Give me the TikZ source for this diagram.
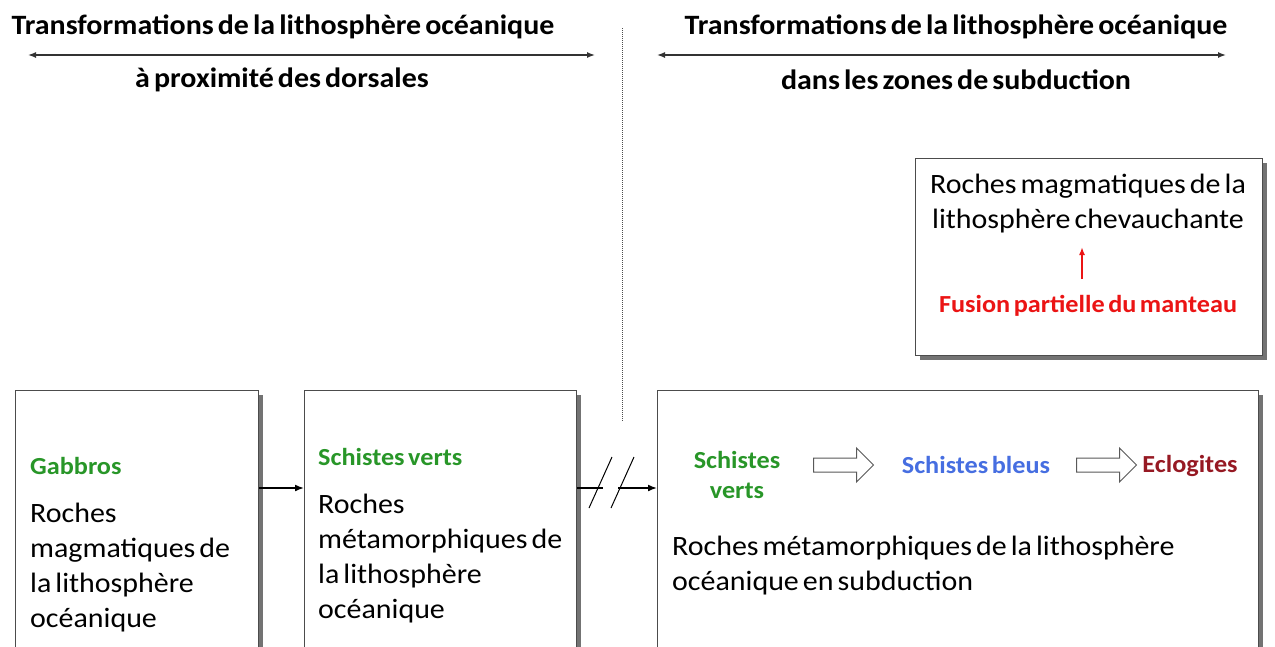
\documentclass[tikz,border=0pt]{standalone}
\usepackage{fontspec}
\setmainfont[WordSpace=0.6, FakeStretch=1.07]{Carlito}
\usetikzlibrary{arrows.meta,positioning,shadows,shapes.arrows,calc}

\definecolor{vert}{RGB}{40,150,40}
\definecolor{bleu}{RGB}{70,110,225}
\definecolor{bordeaux}{RGB}{150,25,35}
\definecolor{rouge}{RGB}{235,20,20}

\tikzset{
  cadre/.style={draw=black!70, line width=1.2pt, fill=white, anchor=north west, inner sep=0pt,
    drop shadow={shadow xshift=4pt, shadow yshift=-4pt, fill=black!55, opacity=1}},
  titre/.style={font=\fontsize{28}{30}\selectfont\bfseries, inner sep=0pt},
  texte/.style={font=\fontsize{28}{35}\selectfont, align=left, anchor=north west, inner sep=0pt},
  roche/.style={font=\fontsize{24.5}{30}\selectfont\bfseries, inner sep=0pt},
  fleche/.style={-{Latex[length=9pt,width=7pt]}, line width=1.6pt},
  creux/.style={single arrow, draw=black!65, line width=1pt, fill=white, minimum height=60pt,
    minimum width=34pt, single arrow head extend=5pt, inner sep=3pt, shape border rotate=0}
}

\begin{document}
\begin{tikzpicture}[x=1pt, y=-1pt]
  \useasboundingbox (0,0) rectangle (1275,646);
  % en-tetes
  \node[titre] (t1) at (283,27) {Transformations de la lithosphère océanique};
  \node[titre] (s1) at (282,80) {à proximité des dorsales};
  \coordinate (g1) at (28,55);
  \coordinate (d1) at (595,55);
  \draw[{Latex[length=8pt,width=6pt]}-{Latex[length=8pt,width=6pt]}, line width=1.4pt, black!80] (g1) -- (d1);
  \node[titre] (t2) at (956,27) {Transformations de la lithosphère océanique};
  \node[titre] (s2) at (956,80) {dans les zones de subduction};
  \coordinate (g2) at (657,55);
  \coordinate (d2) at (1226,55);
  \draw[{Latex[length=8pt,width=6pt]}-{Latex[length=8pt,width=6pt]}, line width=1.4pt, black!80] (g2) -- (d2);
  \coordinate (h) at (622,28);
  \coordinate (b) at (622,422);
  \draw[densely dotted, line width=1pt, black!70] (h) -- (b);

  % cadres
  \node[cadre, minimum width=243pt, minimum height=280pt] (gab) at (15,390) {};
  \node[cadre, minimum width=272pt, minimum height=280pt] (sv) at (304,390) {};
  \node[cadre, minimum width=601pt, minimum height=280pt] (sub) at (657,390) {};
  \node[cadre, minimum width=347pt, minimum height=197pt] (chev) at (915,158) {};

  % dorsale
  \node[roche, text=vert, anchor=west] (gabbros) at (30,466) {Gabbros};
  \node[texte] (rm) at (30,503) {Roches\\magmatiques de\\la lithosphère\\océanique};
  \node[roche, text=vert, anchor=west] (schv) at (318,457) {Schistes verts};
  \node[texte] (rmet) at (318,494) {Roches\\métamorphiques de\\la lithosphère\\océanique};

  % subduction
  \node[roche, text=vert, align=center] (sv2) at (737,475) {Schistes\\verts};
  \node[creux] (c1) at (840,465) {};
  \node[roche, text=bleu] (sb) at (976,465) {Schistes bleus};
  \node[creux] (c2) at (1103,465) {};
  \node[roche, text=bordeaux] (ecl) at (1190,466) {Eclogites};
  \node[texte] (rsub) at (672,536) {Roches métamorphiques de la lithosphère\\océanique en subduction};

  % chevauchante
  \node[texte, align=center, anchor=north] (rch) at (1088,174) {Roches magmatiques de la\\lithosphère chevauchante};
  \node[roche, text=rouge] (fus) at (1088,306) {Fusion partielle du manteau};
  \coordinate (fb) at (1082,279);
  \coordinate (fh) at (1082,247);
  \draw[-{Latex[length=8pt,width=6pt]}, line width=2pt, rouge] (fb) -- (fh);

  % liaisons
  \draw[fleche] (gab.east |- 0,488) -- (sv.west |- 0,488);
  \coordinate (r1) at (601,483);
  \coordinate (r2) at (623,483);
  \draw[line width=1.6pt] (sv.east |- 0,488) -- (603,488);
  \draw[fleche] (618,488) -- (sub.west |- 0,488);
  \draw[line width=1pt] ($(r1)+(-12,25)$) -- ($(r1)+(11,-26)$);
  \draw[line width=1pt] ($(r2)+(-12,25)$) -- ($(r2)+(11,-26)$);
\end{tikzpicture}
\end{document}
